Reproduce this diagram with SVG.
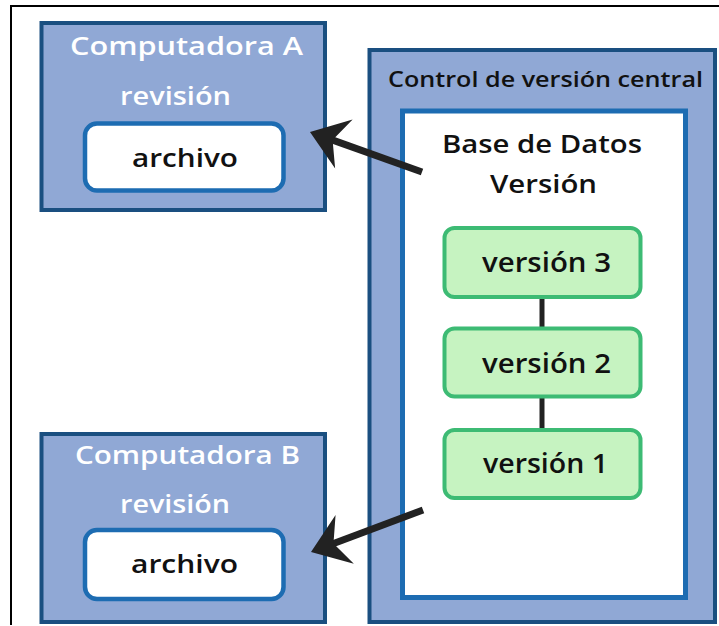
<svg xmlns="http://www.w3.org/2000/svg" width="719" height="626" viewBox="0 0 719 626">
  <style>
    .panel { fill: #90a8d5; stroke: #1a4f80; stroke-width: 4; }
    .store { fill: #ffffff; stroke: #1d6cb2; stroke-width: 5; }
    .file { fill: #ffffff; stroke: #1d6cb2; stroke-width: 4.5; }
    .ver { fill: #c6f3c1; stroke: #3dbb74; stroke-width: 4; }
    text { font-family: "Open Sans", "DejaVu Sans", sans-serif; font-weight: 600; text-anchor: middle; fill: #111111; }
    .light { fill: #ffffff; }
    .link { stroke: #222222; stroke-width: 5; fill: none; }
    .arrow { stroke: #222222; stroke-width: 7; fill: none; }
  </style>
  <defs>
    <marker id="head" markerUnits="userSpaceOnUse" viewBox="-37 -27 38 54" refX="-22" refY="0" markerWidth="38" markerHeight="54" orient="auto">
      <path d="M0,0 L-36,-26 L-24,0 L-36,26 Z" fill="#222222"/>
    </marker>
  </defs>

  <rect width="719" height="626" fill="#ffffff"/>
  <!-- page frame -->
  <path d="M11,625 V6 H719" fill="none" stroke="#000000" stroke-width="2"/>

  <g id="computadora-a">
    <rect class="panel" x="41.5" y="23" width="283.5" height="187"/>
    <text class="light" x="186.5" y="55" font-size="26" textLength="233" lengthAdjust="spacingAndGlyphs">Computadora A</text>
    <text class="light" x="175.5" y="105" font-size="26" textLength="111" lengthAdjust="spacingAndGlyphs">revisión</text>
  </g>
  <g id="archivo-a">
    <rect class="file" x="85" y="123.5" width="198.5" height="67" rx="12"/>
    <text x="185" y="167" font-size="25" textLength="106" lengthAdjust="spacingAndGlyphs">archivo</text>
  </g>

  <g id="computadora-b">
    <rect class="panel" x="41.5" y="434" width="283.5" height="188"/>
    <text class="light" x="187.5" y="464" font-size="26" textLength="225" lengthAdjust="spacingAndGlyphs">Computadora B</text>
    <text class="light" x="175" y="513" font-size="26" textLength="110" lengthAdjust="spacingAndGlyphs">revisión</text>
  </g>
  <g id="archivo-b">
    <rect class="file" x="85" y="530" width="198.5" height="69" rx="12"/>
    <text x="184.5" y="573" font-size="25" textLength="107" lengthAdjust="spacingAndGlyphs">archivo</text>
  </g>

  <g id="control-central">
    <rect class="panel" x="369.5" y="50" width="345.5" height="572"/>
    <text x="545.5" y="87" font-size="21" textLength="315" lengthAdjust="spacingAndGlyphs">Control de versión central</text>
  </g>
  <g id="base-de-datos">
    <rect class="store" x="402.5" y="111" width="283" height="486.5"/>
    <text x="542" y="153" font-size="26" textLength="200" lengthAdjust="spacingAndGlyphs">Base de Datos</text>
    <text x="543.5" y="193" font-size="26" textLength="107" lengthAdjust="spacingAndGlyphs">Versión</text>
  </g>

  <g id="connectors">
    <line class="link" x1="542" y1="297" x2="542" y2="328.5"/>
    <line class="link" x1="542" y1="396.5" x2="542" y2="430"/>
    <line class="arrow" x1="422" y1="172" x2="330.7" y2="139.4" marker-end="url(#head)"/>
    <line class="arrow" x1="423" y1="510" x2="331.6" y2="544.3" marker-end="url(#head)"/>
  </g>

  <g id="version-3">
    <rect class="ver" x="444.5" y="228" width="196" height="69" rx="10"/>
    <text x="546.5" y="272" font-size="27" textLength="129" lengthAdjust="spacingAndGlyphs">versión 3</text>
  </g>
  <g id="version-2">
    <rect class="ver" x="444.5" y="328.5" width="196" height="68" rx="10"/>
    <text x="546.5" y="373" font-size="27" textLength="129" lengthAdjust="spacingAndGlyphs">versión 2</text>
  </g>
  <g id="version-1">
    <rect class="ver" x="444.5" y="430" width="196" height="68" rx="10"/>
    <text x="545.5" y="473" font-size="27" textLength="125" lengthAdjust="spacingAndGlyphs">versión 1</text>
  </g>
</svg>
